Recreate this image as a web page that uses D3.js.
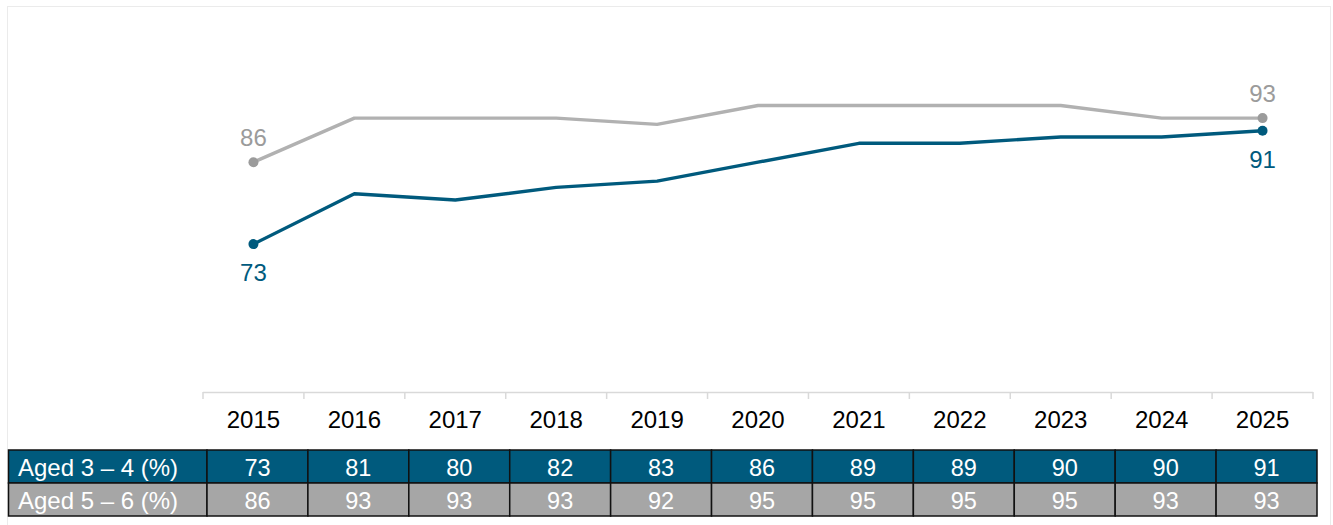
<!DOCTYPE html>
<html>
<head>
<meta charset="utf-8">
<script src="https://cdn.jsdelivr.net/npm/d3@7"></script>
<style>
  body { margin: 0; background: #fff; }
  svg { font-family: Arial, "Liberation Sans", sans-serif; }
</style>
</head>
<body>
<div id="chart"></div>
<script>
// data
const years = ["2015", "2016", "2017", "2018", "2019", "2020", "2021", "2022", "2023", "2024", "2025"];
const aged34 = [73, 81, 80, 82, 83, 86, 89, 89, 90, 90, 91];
const aged56 = [86, 93, 93, 93, 92, 95, 95, 95, 95, 93, 93];
const rowLabels = ["Aged 3 \u2013 4 (%)", "Aged 5 \u2013 6 (%)"];

const W = 1333, H = 525;
const BLUE = "#005a7d", GREY_LINE = "#b1b1b1", GREY_DOT = "#9b9b9b", GREY_CELL = "#a6a6a6";

const svg = d3.select("#chart").append("svg")
    .attr("width", W)
    .attr("height", H);

// faint frame round the chart
svg.append("rect")
    .attr("x", 7.5).attr("y", 6.5)
    .attr("width", 1323).attr("height", 540)
    .attr("fill", "none")
    .attr("stroke", "#ebebeb");

const xScale = d3.scaleBand()
    .domain(years)
    .range([203, 1313])
    .padding(0);

const yScale = d3.scaleLinear()
    .domain([50, 100])
    .range([389, 74]);

const axisY = 392;

// x axis: light line with ticks at the category edges
const axisG = svg.append("g");
axisG.append("line")
    .attr("x1", xScale.range()[0]).attr("x2", xScale.range()[1])
    .attr("y1", axisY + 0.5).attr("y2", axisY + 0.5)
    .attr("stroke", "#d9d9d9").attr("stroke-width", 1.5);
const edges = years.map(y => xScale(y)).concat([xScale.range()[1]]);
axisG.selectAll("line.tick")
    .data(edges)
    .enter()
    .append("line")
    .attr("class", "tick")
    .attr("x1", d => d).attr("x2", d => d)
    .attr("y1", axisY).attr("y2", axisY + 7)
    .attr("stroke", "#d9d9d9").attr("stroke-width", 1.5);
axisG.selectAll("text")
    .data(years)
    .enter()
    .append("text")
    .attr("x", d => xScale(d) + xScale.bandwidth() / 2)
    .attr("y", 428)
    .attr("text-anchor", "middle")
    .style("font-size", "24px")
    .style("fill", "#000")
    .text(d => d);

// lines
const series = [
    { values: aged56, line: GREY_LINE, dot: GREY_DOT, label: GREY_DOT, above: true },
    { values: aged34, line: BLUE, dot: BLUE, label: BLUE, above: false }
];

const line = d3.line()
    .x((d, i) => xScale(years[i]) + xScale.bandwidth() / 2)
    .y(d => yScale(d));

series.forEach(s => {
    svg.append("path")
        .datum(s.values)
        .attr("d", line)
        .attr("fill", "none")
        .attr("stroke", s.line)
        .attr("stroke-width", 3.4)
        .attr("stroke-linejoin", "round");

    const ends = [0, s.values.length - 1];
    svg.selectAll(null)
        .data(ends)
        .enter()
        .append("circle")
        .attr("cx", i => xScale(years[i]) + xScale.bandwidth() / 2)
        .attr("cy", i => yScale(s.values[i]))
        .attr("r", 5)
        .attr("fill", s.dot);

    svg.selectAll(null)
        .data(ends)
        .enter()
        .append("text")
        .attr("x", i => xScale(years[i]) + xScale.bandwidth() / 2)
        .attr("y", i => yScale(s.values[i]) + (s.above ? -16 : 37))
        .attr("text-anchor", "middle")
        .style("font-size", "24px")
        .style("fill", s.label)
        .text(i => s.values[i]);
});

// data table under the axis
const tableTop = 450, rowH = 33, labelLeft = 8.5, shift = 4;
const rows = [
    { label: rowLabels[0], values: aged34, fill: BLUE },
    { label: rowLabels[1], values: aged56, fill: GREY_CELL }
];

rows.forEach((r, ri) => {
    const y0 = tableTop + ri * rowH;
    const g = svg.append("g");
    g.append("rect")
        .attr("x", labelLeft).attr("y", y0)
        .attr("width", xScale(years[0]) + shift - labelLeft).attr("height", rowH)
        .attr("fill", r.fill)
        .attr("stroke", "#111").attr("stroke-width", 1.5);
    g.append("text")
        .attr("x", 18).attr("y", y0 + 26)
        .style("font-size", "24px")
        .style("fill", "#fff")
        .text(r.label);
    g.selectAll("rect.cell")
        .data(r.values)
        .enter()
        .append("rect")
        .attr("class", "cell")
        .attr("x", (d, i) => xScale(years[i]) + shift)
        .attr("y", y0)
        .attr("width", xScale.bandwidth())
        .attr("height", rowH)
        .attr("fill", r.fill)
        .attr("stroke", "#111").attr("stroke-width", 1.5);
    g.selectAll("text.val")
        .data(r.values)
        .enter()
        .append("text")
        .attr("class", "val")
        .attr("x", (d, i) => xScale(years[i]) + shift + xScale.bandwidth() / 2)
        .attr("y", y0 + 26)
        .attr("text-anchor", "middle")
        .style("font-size", "23.5px")
        .style("fill", "#fff")
        .text(d => d);
});
</script>
</body>
</html>
